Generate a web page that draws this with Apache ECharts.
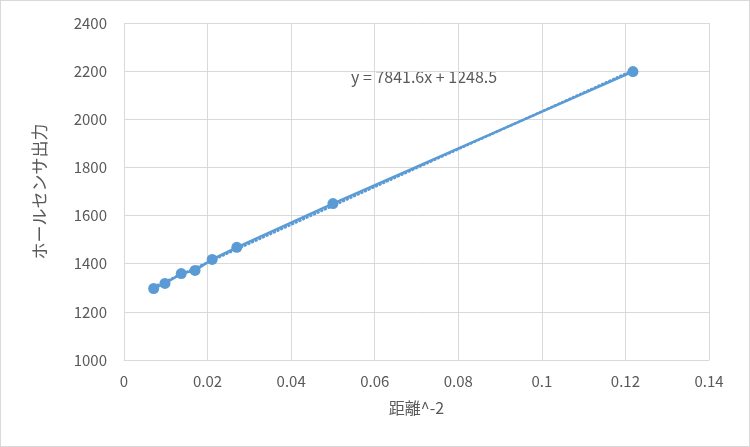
<!DOCTYPE html>
<html><head><meta charset="utf-8">
<script src="https://cdn.jsdelivr.net/npm/echarts@6/dist/echarts.min.js"></script>
<style>html,body{margin:0;padding:0;background:#fff}#c{width:750px;height:447px;box-sizing:border-box;border:1px solid #d9d9d9}</style>
</head><body><div id="c"></div>
<script>
var xValues = [0.0071, 0.0098, 0.0137, 0.0170, 0.0211, 0.0270, 0.0500, 0.1218];
var yValues = [1297, 1318, 1359, 1372, 1418, 1468, 1650, 2198];
var trendSlope = 7841.6;
var trendIntercept = 1248.5;
var trendLabel = 'y = 7841.6x + 1248.5';
var xTitle = '距離^-2';
var yTitle = 'ホールセンサ出力';

var pts = xValues.map(function(x, i){ return [x, yValues[i]]; });
var xMin = Math.min.apply(null, xValues), xMax = Math.max.apply(null, xValues);
var trend = [[xMin, trendSlope*xMin+trendIntercept],[xMax, trendSlope*xMax+trendIntercept]];
var font = '"Noto Sans CJK JP", "Noto Sans", sans-serif';
var chart = echarts.init(document.getElementById('c'));
chart.setOption({
  animation:false,
  grid:{left:123,right:40,top:22,bottom:86},
  xAxis:{type:'value',min:0,max:0.14,interval:0.02,
    name:xTitle,nameLocation:'middle',nameGap:40,
    nameTextStyle:{color:'#595959',fontSize:16,fontFamily:font},
    axisLine:{show:true,lineStyle:{color:'#d9d9d9',width:1}},axisTick:{show:false},
    axisLabel:{color:'#595959',fontSize:15,fontFamily:font,margin:14,formatter:function(v){return String(v);}},
    splitLine:{show:true,lineStyle:{color:'#d9d9d9',width:1}}},
  yAxis:{type:'value',min:1000,max:2400,interval:200,
    name:yTitle,nameLocation:'middle',nameGap:76,nameRotate:90,
    nameTextStyle:{color:'#595959',fontSize:17,fontFamily:font},
    axisLine:{show:false},axisTick:{show:false},
    axisLabel:{color:'#595959',fontSize:15,fontFamily:font,margin:17,formatter:function(v){return String(v);}},
    splitLine:{show:true,lineStyle:{color:'#d9d9d9',width:1}}},
  graphic:[{type:'text',left:350,top:68,style:{text:trendLabel,fill:'#595959',font:'16px '+font}}],
  series:[
    {type:'line',data:trend,symbol:'none',z:1,
     lineStyle:{color:'#5B9BD5',width:2.5,type:[1,3],cap:'round'}},
    {type:'line',data:pts,symbol:'circle',symbolSize:11,z:2,
     itemStyle:{color:'#5B9BD5'},lineStyle:{color:'#5B9BD5',width:2.5}}
  ]
});
</script></body></html>
